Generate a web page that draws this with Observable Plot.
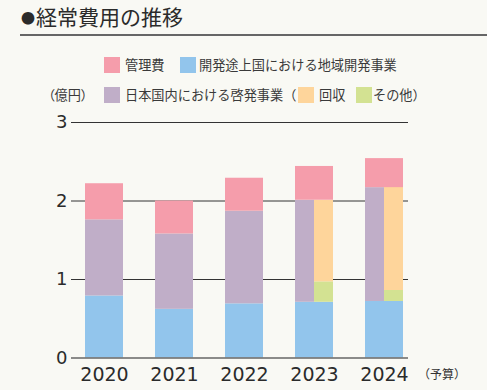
<!DOCTYPE html>
<html><head><meta charset="utf-8">
<script src="https://cdn.jsdelivr.net/npm/d3@7"></script>
<script src="https://cdn.jsdelivr.net/npm/@observablehq/plot@0.6"></script>
<style>
html,body{margin:0;padding:0;background:#f9f9f4;}
#wrap{position:relative;width:487px;height:390px;background:#f9f9f4;font-family:"Noto Sans CJK JP","Noto Sans",sans-serif;color:#333;overflow:hidden;}
#chart{position:absolute;left:0;top:0;}
.title{position:absolute;left:21px;top:2px;font-size:21px;font-weight:400;color:#2b2b2b;white-space:nowrap;line-height:28px;}
.title .dot{font-size:14px;display:inline-block;vertical-align:top;margin-right:1px;position:relative;top:1px;}
.rule{position:absolute;left:20px;right:0;top:34px;height:1.5px;background:#666;}
.lg{position:absolute;font-size:13.2px;white-space:nowrap;color:#3a3a3a;line-height:16px;}
.sw{position:absolute;width:16px;height:16px;}
</style></head>
<body>
<div id="wrap">
  <div id="chart"></div>
  <div class="title"><span class="dot">●</span>経常費用の推移</div>
  <div class="rule"></div>
  <div id="legend"></div>
</div>
<script>
const years = ["2020", "2021", "2022", "2023", "2024"];
const overseas = [0.79, 0.62, 0.69, 0.71, 0.72];   // 開発途上国における地域開発事業
const domestic = [0.97, 0.96, 1.18, 1.30, 1.45];   // 日本国内における啓発事業
const recovery = [null, null, null, 1.04, 1.32];   // 回収
const other    = [null, null, null, 0.26, 0.14];   // その他
const admin    = [0.46, 0.42, 0.42, 0.43, 0.37];   // 管理費
const yTicks = [0, 1, 2, 3];

const names = {
  admin: "管理費",
  overseas: "開発途上国における地域開発事業",
  domestic: "日本国内における啓発事業（",
  recovery: "回収",
  other: "その他）"
};
const colors = {
  admin: "#f59dab", overseas: "#92c5ec", domestic: "#c0aec8",
  recovery: "#fed59b", other: "#d3e292"
};

const rows = years.map((y, i) => ({
  year: y,
  overseas: overseas[i],
  domestic: domestic[i],
  recovery: recovery[i],
  other: other[i],
  admin: admin[i],
  split: recovery[i] != null
}));

const numFont = "'DejaVu Sans', sans-serif";

const plot = Plot.plot({
  width: 487,
  height: 390,
  marginTop: 122,
  marginBottom: 32.5,
  marginLeft: 71,
  marginRight: 79,
  style: {background: "transparent", fontFamily: "'Noto Sans CJK JP', 'Noto Sans', sans-serif", color: "#333"},
  x: {domain: years, paddingInner: 0.461, paddingOuter: 0, insetLeft: 12.7, insetRight: 4.3, label: null},
  y: {domain: [0, 3], label: null},
  marks: [
    Plot.ruleY(yTicks.filter(d => d > 0), {stroke: "#333", strokeWidth: 1}),
    Plot.barY(rows, {x: "year", y1: 0, y2: d => d.overseas, fill: colors.overseas}),
    Plot.barY(rows.filter(d => !d.split), {x: "year", y1: d => d.overseas, y2: d => d.overseas + d.domestic, fill: colors.domestic}),
    Plot.barY(rows.filter(d => d.split), {x: "year", y1: d => d.overseas, y2: d => d.overseas + d.domestic, fill: colors.domestic, insetRight: 19}),
    Plot.barY(rows.filter(d => d.split), {x: "year", y1: d => d.overseas, y2: d => d.overseas + d.other, fill: colors.other, insetLeft: 19}),
    Plot.barY(rows.filter(d => d.split), {x: "year", y1: d => d.overseas + d.other, y2: d => d.overseas + d.other + d.recovery, fill: colors.recovery, insetLeft: 19}),
    Plot.barY(rows, {x: "year", y1: d => d.overseas + d.domestic, y2: d => d.overseas + d.domestic + d.admin, fill: colors.admin}),
    Plot.ruleY([0], {stroke: "#666", strokeWidth: 1.5}),
    Plot.axisY({ticks: yTicks, tickSize: 0, tickPadding: 4, fontSize: 18, fontFamily: numFont, fill: "#2b2b2b", tickFormat: d => String(d)}),
    Plot.axisX({tickSize: 0, tickPadding: 9, fontSize: 19, fontFamily: numFont, fill: "#2b2b2b"}),
    Plot.text(["（予算）"], {x: () => years[years.length - 1], y: () => 0, dx: 33.5, dy: 17.5, textAnchor: "start", lineAnchor: "middle", fontSize: 12, fill: "#333"})
  ]
});
document.getElementById("chart").appendChild(plot);

// legend (HTML, placed above the plot area)
const legendItems = [
  {key: "admin", sx: 104, sy: 57, tx: 125},
  {key: "overseas", sx: 180, sy: 57, tx: 199},
  {key: "domestic", sx: 104, sy: 87, tx: 125},
  {key: "recovery", sx: 298, sy: 87, tx: 319},
  {key: "other", sx: 356, sy: 87, tx: 373}
];
const lg = document.getElementById("legend");
for (const it of legendItems) {
  const s = document.createElement("div");
  s.className = "sw";
  s.style.left = it.sx + "px"; s.style.top = it.sy + "px"; s.style.background = colors[it.key];
  lg.appendChild(s);
  const t = document.createElement("div");
  t.className = "lg";
  t.style.left = it.tx + "px"; t.style.top = (it.sy) + "px";
  t.textContent = names[it.key];
  lg.appendChild(t);
}
const unit = document.createElement("div");
unit.className = "lg";
unit.style.left = "48px"; unit.style.top = "87px";
unit.style.fontFeatureSettings = '"palt"';
unit.textContent = "（億円）";
lg.appendChild(unit);
</script>
</body></html>
